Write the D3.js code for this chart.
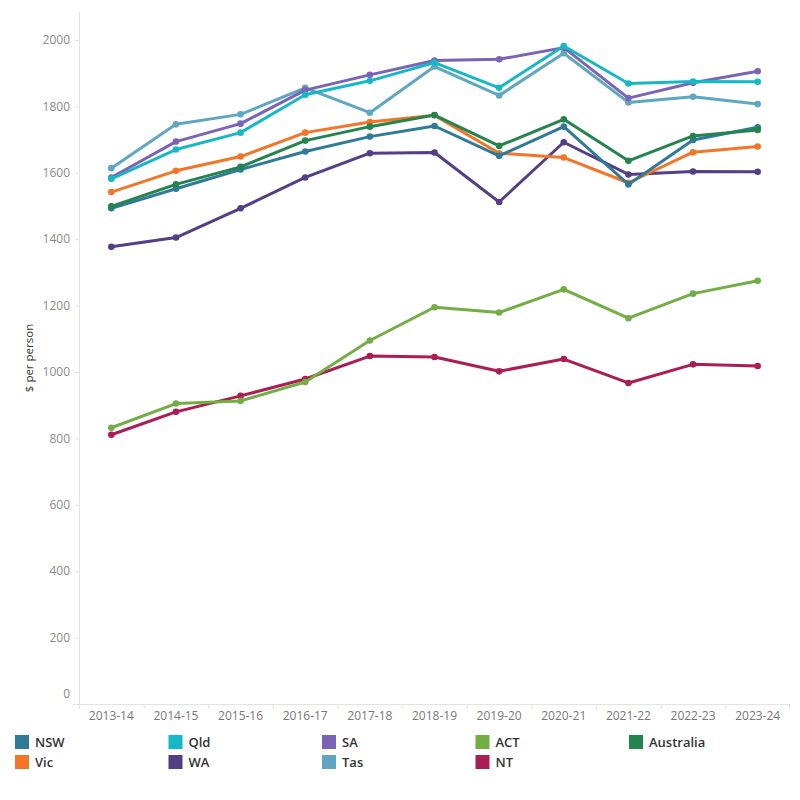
<!DOCTYPE html>
<html><head><meta charset="utf-8">
<script src="https://cdn.jsdelivr.net/npm/d3@7"></script>
<style>
html,body{margin:0;padding:0;background:#fff;}
svg{display:block;font-family:"Open Sans","Noto Sans",sans-serif;}
</style></head>
<body><svg id="chart" width="800" height="800"></svg>
<script>
const years = ["2013-14","2014-15","2015-16","2016-17","2017-18","2018-19","2019-20","2020-21","2021-22","2022-23","2023-24"];
const yTicks = [0,200,400,600,800,1000,1200,1400,1600,1800,2000];
const nsw = [1493,1552,1610,1664,1709,1741,1651,1739,1565,1699,1737];
const vic = [1542,1606,1649,1721,1753,1773,1659,1646,1570,1662,1679];
const qld = [1582,1670,1721,1835,1877,1932,1856,1982,1869,1875,1874];
const wa  = [1377,1405,1493,1586,1659,1661,1512,1692,1595,1604,1603];
const sa  = [1586,1694,1748,1849,1895,1938,1942,1977,1825,1871,1906];
const tas = [1614,1746,1776,1856,1781,1920,1833,1960,1812,1829,1807];
const act = [832,905,913,970,1095,1195,1179,1249,1162,1236,1275];
const nt  = [811,880,928,979,1048,1045,1002,1039,967,1023,1018];
const aus = [1499,1565,1618,1697,1739,1774,1681,1761,1636,1711,1729];

const seriesNames = ["NSW","Vic","Qld","WA","SA","Tas","ACT","NT","Australia"];
const seriesValues = [nsw,vic,qld,wa,sa,tas,act,nt,aus];
const seriesColors = ["#2e7b99","#f47526","#17b8c6","#543f85","#7b63b5","#5fa7c0","#73ad45","#aa1d55","#23844e"];
const drawOrder = ["NT","ACT","Tas","SA","Qld","WA","Vic","NSW","Australia"];
const legendOrder = ["NSW","Qld","SA","ACT","Australia","Vic","WA","Tas","NT"];

(function(){
const svg = d3.select("#chart");
const mLeft = 79, mRight = 790, mTop = 12, mBottom = 704;

const x = d3.scaleBand().domain(years).range([mLeft, mRight]).padding(0);
const y = d3.scaleLinear().domain([0, 2000]).range([mBottom, 40]);

svg.append("line").attr("x1", mLeft+0.5).attr("x2", mLeft+0.5).attr("y1", mTop).attr("y2", mBottom)
  .attr("stroke", "#e3e3e3").attr("stroke-width", 1);
svg.append("line").attr("x1", mLeft-6).attr("x2", mRight).attr("y1", mBottom+0.5).attr("y2", mBottom+0.5)
  .attr("stroke", "#e3e3e3").attr("stroke-width", 1);

const yg = svg.append("g");
yTicks.forEach(t => {
  const yy = y(t);
  yg.append("line").attr("x1", mLeft-4).attr("x2", mLeft).attr("y1", yy+0.5).attr("y2", yy+0.5)
    .attr("stroke", "#e3e3e3");
  yg.append("text").attr("x", mLeft-9).attr("y", t === 0 ? yy - 10 : yy)
    .attr("dy", "0.35em").attr("text-anchor", "end")
    .attr("font-size", 12).attr("fill", "#8a8a8a").text(t);
});

const xg = svg.append("g");
years.forEach((yr) => {
  const bx = x(yr);
  xg.append("line").attr("x1", bx+0.5).attr("x2", bx+0.5).attr("y1", mBottom).attr("y2", mBottom+5)
    .attr("stroke", "#e3e3e3");
  xg.append("text").attr("x", bx + x.bandwidth()/2).attr("y", mBottom+12).attr("dy", "0.35em")
    .attr("text-anchor", "middle").attr("font-size", 12).attr("fill", "#777").text(yr);
});
xg.append("line").attr("x1", mRight-0.5).attr("x2", mRight-0.5).attr("y1", mBottom).attr("y2", mBottom+5)
  .attr("stroke", "#e3e3e3");

svg.append("text").attr("transform", `translate(33,${(mTop+mBottom)/2}) rotate(-90)`)
  .attr("text-anchor", "middle").attr("font-size", 11.5).attr("fill", "#333").text("$ per person");

const line = d3.line().x((d, i) => x(years[i]) + x.bandwidth()/2).y(d => y(d));
drawOrder.forEach(name => {
  const idx = seriesNames.indexOf(name);
  const vals = seriesValues[idx];
  const g = svg.append("g");
  g.append("path").datum(vals).attr("d", line).attr("fill", "none")
    .attr("stroke", seriesColors[idx]).attr("stroke-width", 3)
    .attr("stroke-linejoin", "round").attr("stroke-linecap", "round");
  g.selectAll("circle").data(vals).enter().append("circle")
    .attr("cx", (d, i) => x(years[i]) + x.bandwidth()/2).attr("cy", d => y(d))
    .attr("r", 3.3).attr("fill", seriesColors[idx]);
});

const lg = svg.append("g");
legendOrder.forEach((name, k) => {
  const idx = seriesNames.indexOf(name);
  const col = k % 5, row = Math.floor(k / 5);
  const lx = 15 + col * 153.5, ly = 735 + row * 20;
  lg.append("rect").attr("x", lx).attr("y", ly).attr("width", 14).attr("height", 14)
    .attr("fill", seriesColors[idx]);
  lg.append("text").attr("x", lx + 20).attr("y", ly + 7).attr("dy", "0.36em")
    .attr("font-size", 13).attr("font-weight", 600).attr("fill", "#333").text(name);
});
})();
</script></body></html>
